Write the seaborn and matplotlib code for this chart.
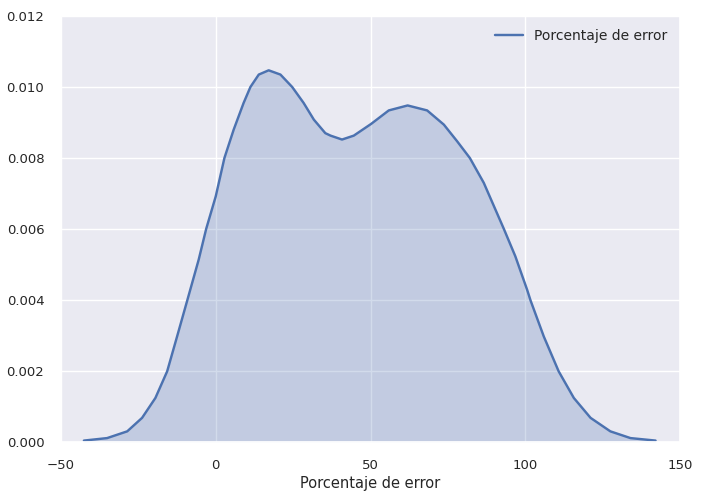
import matplotlib
matplotlib.use('Agg')
import matplotlib.pyplot as plt
import seaborn as sns
import pandas as pd

# --- density curve (x = % error, y = density) ---
error_pct = [-42.6, -35.1, -28.6, -23.8, -19.5, -15.7, -12.5, -9.2, -5.5, -3.1,
             0.0, 2.8, 5.8, 9.0, 11.2, 13.9, 17.1, 20.9, 24.7, 28.4,
             31.7, 35.4, 37.1, 40.8, 44.6, 50.2, 55.9, 62.0, 68.3, 73.7,
             78.0, 82.1, 86.6, 93.1, 96.8, 100.6, 101.7, 106.0, 110.8, 115.7,
             121.1, 127.5, 134.0, 142.1]
density = [0.00004, 0.00011, 0.00030, 0.00068, 0.00124, 0.00199, 0.00297, 0.00399,
           0.00514, 0.00600, 0.00692, 0.00800, 0.00880, 0.00955, 0.01000, 0.01035,
           0.01047, 0.01035, 0.01000, 0.00955, 0.00908, 0.00870, 0.00863, 0.00852,
           0.00863, 0.00896, 0.00934, 0.00948, 0.00934, 0.00894, 0.00847, 0.00800,
           0.00730, 0.00600, 0.00523, 0.00429, 0.00399, 0.00297, 0.00199, 0.00124,
           0.00068, 0.00030, 0.00011, 0.00004]
series_name = "Porcentaje de error"

df = pd.DataFrame({"x": error_pct, "y": density})

sns.set_theme(style="darkgrid")
plt.rcParams['font.family'] = ['DejaVu Sans']

fig = plt.figure(figsize=(7.02, 4.98), dpi=100)
ax = fig.add_axes([61 / 702, 1 - 442 / 498, 619 / 702, 426 / 498])

color = sns.color_palette("deep")[0]
sns.lineplot(data=df, x="x", y="y", ax=ax, color=color, linewidth=1.75,
             label=series_name)
ax.fill_between(df["x"], df["y"], color=color, alpha=0.25, linewidth=0)

ax.set_xlim(-50, 150)
ax.set_ylim(0, 0.012)
ax.set_xticks([-50, 0, 50, 100, 150])
ax.set_yticks([0.000, 0.002, 0.004, 0.006, 0.008, 0.010, 0.012])
ax.set_yticklabels([f"{v:.3f}" for v in ax.get_yticks()])
ax.tick_params(labelsize=9.5, pad=6)
ax.set_xlabel(series_name, fontsize=10.5, labelpad=3)
ax.set_ylabel("")

ax.legend(loc="upper right", frameon=False, fontsize=10)

fig.savefig("out.png", dpi=100)
plt.close(fig)
